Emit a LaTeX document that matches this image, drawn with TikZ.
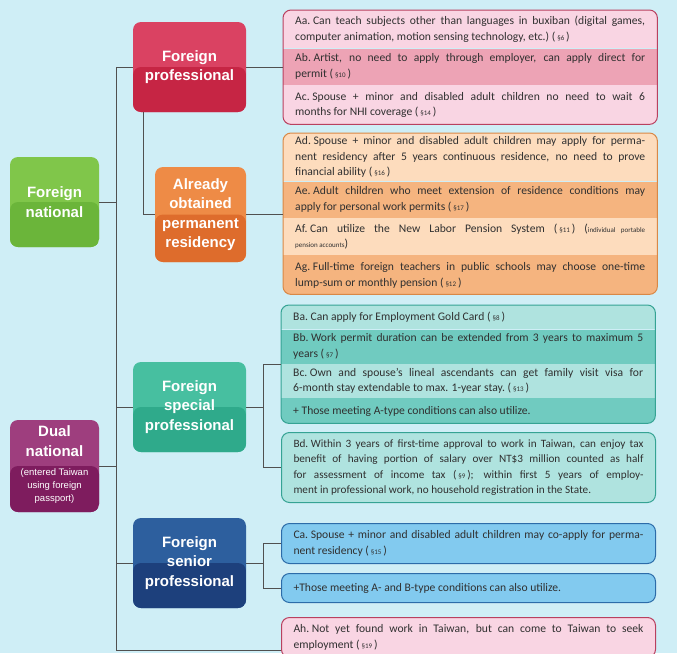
\documentclass[tikz,border=0pt]{standalone}
\usepackage{fontspec}
\setmainfont{Carlito}
\newfontfamily\headfont{Liberation Sans}
\usetikzlibrary{positioning}

\definecolor{bgblue}{HTML}{CFEEF6}
\definecolor{natT}{HTML}{80C64A}
\definecolor{natB}{HTML}{6BB53A}
\definecolor{proT}{HTML}{DA4262}
\definecolor{proB}{HTML}{C62544}
\definecolor{perT}{HTML}{EE8B46}
\definecolor{perB}{HTML}{DE6C2C}
\definecolor{speT}{HTML}{47BFA0}
\definecolor{speB}{HTML}{2FAA8B}
\definecolor{senT}{HTML}{2D5F9E}
\definecolor{senB}{HTML}{1D407C}
\definecolor{dualT}{HTML}{9E3E7E}
\definecolor{dualB}{HTML}{7E1C5E}
\definecolor{pinkL}{HTML}{F9D5E3}
\definecolor{pinkM}{HTML}{EDA3B5}
\definecolor{pinkE}{HTML}{B9405F}
\definecolor{oraL}{HTML}{FDDCBD}
\definecolor{oraM}{HTML}{F5B47F}
\definecolor{oraE}{HTML}{D98846}
\definecolor{tealL}{HTML}{AFE3DF}
\definecolor{tealM}{HTML}{70CBC0}
\definecolor{tealE}{HTML}{35A394}
\definecolor{bluF}{HTML}{82CAEF}
\definecolor{bluE}{HTML}{2C6CA9}
\definecolor{linegray}{HTML}{505050}
\definecolor{txtgray}{HTML}{303030}

\newcommand\itm[2]{\noindent\setbox0\hbox{#1\ }\hangindent=\wd0\hangafter=1\box0\relax #2}
\newcommand\sectno[1]{\ (\,{\scriptsize\S#1}\,)}

\begin{document}
\begin{tikzpicture}[x=1pt, y=-1pt,
  cat/.style 2 args={rounded corners=8pt, fill=#1, inner sep=0pt, align=center, text=white,
    font=\headfont\bfseries\fontsize{15}{19.5}\selectfont,
    path picture={\fill[#2] (path picture bounding box.west) rectangle (path picture bounding box.south east);}},
  grp/.style={minimum width=374pt, inner sep=0pt, anchor=north west},
  row/.style={text width=350pt, inner xsep=12pt, inner ysep=0pt, align=justify, anchor=north west,
    font=\fontsize{11.6}{15.5}\selectfont, text=txtgray},
  frame/.style={rounded corners=8pt, line width=1pt},
  box/.style 2 args={row, fill=#1, draw=#2, line width=1pt, rounded corners=8pt},
  conn/.style={draw=linegray, line width=1pt}]
  \fill[bgblue, use as bounding box] (0,0) rectangle (677,653);

  \node[cat={natT}{natB}, minimum width=89pt, minimum height=90pt] (nat) at (54.5,202) {Foreign\\national};
  \node[cat={dualT}{dualB}, minimum width=89pt, minimum height=92pt] (dual) at (54.5,466)
    {Dual\\national\\[0pt]{\mdseries\fontsize{9.5}{13}\selectfont\begin{tabular}[t]{@{}c@{}}(entered Taiwan\\using foreign\\passport)\end{tabular}}};
  \node[cat={proT}{proB}, minimum width=113pt, minimum height=90pt] (pro) at (189.5,67) {Foreign\\professional};
  \node[cat={perT}{perB}, minimum width=91pt, minimum height=95pt] (per) at (200.5,214.5) {Already\\obtained\\permanent\\residency};
  \node[cat={speT}{speB}, minimum width=113pt, minimum height=90pt] (spe) at (189.5,407) {Foreign\\special\\professional};
  \node[cat={senT}{senB}, minimum width=113pt, minimum height=90pt] (sen) at (189.5,563) {Foreign\\senior\\professional};

  \node[grp, minimum height=114pt] (A) at (283,10) {};
  \begin{scope}
    \clip[rounded corners=8pt] (A.north west) rectangle (A.south east);
    \node[row, fill=pinkL, minimum height=38pt] (Aa) at (A.north west)
      {\itm{Aa.}{Can teach subjects other than languages in buxiban (digital games,\linebreak computer animation, motion sensing technology, etc.)\sectno{6}}};
    \node[row, fill=pinkM, minimum height=36pt, below=0pt of Aa] (Ab)
      {\itm{Ab.}{Artist, no need to apply through employer, can apply direct for\linebreak permit\sectno{10}}};
    \node[row, fill=pinkL, minimum height=40pt, below=0pt of Ab] (Ac)
      {\itm{Ac.}{Spouse + minor and disabled adult children no need to wait 6\linebreak months for NHI coverage\sectno{14}}};
  \end{scope}
  \draw[frame, draw=pinkE] (A.north west) rectangle (A.south east);

  \node[grp, minimum height=161pt] (P) at (283,133) {};
  \begin{scope}
    \clip[rounded corners=8pt] (P.north west) rectangle (P.south east);
    \node[row, fill=oraL, minimum height=48pt] (Ad) at (P.north west)
      {\itm{Ad.}{Spouse + minor and disabled adult children may apply for perma-\linebreak nent residency after 5 years continuous residence, no need to prove\linebreak financial ability\sectno{16}}};
    \node[row, fill=oraM, minimum height=36pt, below=0pt of Ad] (Ae)
      {\itm{Ae.}{Adult children who meet extension of residence conditions may\linebreak apply for personal work permits\sectno{17}}};
    \node[row, fill=oraL, minimum height=37pt, below=0pt of Ae] (Af)
      {\itm{Af.}{Can utilize the New Labor Pension System\sectno{11}\ ({\scriptsize individual portable\linebreak pension accounts})}};
    \node[row, fill=oraM, minimum height=40pt, below=0pt of Af] (Ag)
      {\itm{Ag.}{Full-time foreign teachers in public schools may choose one-time\linebreak lump-sum or monthly pension\sectno{12}}};
  \end{scope}
  \draw[frame, draw=oraE] (P.north west) rectangle (P.south east);

  \node[grp, minimum height=118pt] (B) at (281,305) {};
  \begin{scope}
    \clip[rounded corners=8pt] (B.north west) rectangle (B.south east);
    \node[row, fill=tealL, minimum height=24pt] (Ba) at (B.north west)
      {\itm{Ba.}{Can apply for Employment Gold Card\sectno{8}}};
    \node[row, fill=tealM, minimum height=34pt, below=0pt of Ba] (Bb)
      {\itm{Bb.}{Work permit duration can be extended from 3 years to maximum 5\linebreak years\sectno{7}}};
    \node[row, fill=tealL, minimum height=34pt, below=0pt of Bb] (Bc)
      {\itm{Bc.}{Own and spouse’s lineal ascendants can get family visit visa for\linebreak 6-month stay extendable to max. 1-year stay.\sectno{13}}};
    \node[row, fill=tealM, minimum height=26pt, below=0pt of Bc] (Bp)
      {+ Those meeting A-type conditions can also utilize.};
  \end{scope}
  \draw[frame, draw=tealE] (B.north west) rectangle (B.south east);

  \node[box={tealL}{tealE}, minimum height=70pt, font=\fontsize{11.2}{15.5}\selectfont] (Bd) at (281,432)
    {\itm{Bd.}{Within 3 years of first-time approval to work in Taiwan, can enjoy tax\linebreak benefit of having portion of salary over NT\$3 million counted as half\linebreak for assessment of income tax\sectno{9}; within first 5 years of employ-\linebreak ment in professional work, no household registration in the State.}};
  \node[box={bluF}{bluE}, minimum height=40pt] (Ca) at (281,523)
    {\itm{Ca.}{Spouse + minor and disabled adult children may co-apply for perma-\linebreak nent residency\sectno{15}}};
  \node[box={bluF}{bluE}, minimum height=29pt] (Cp) at (281,573)
    {+Those meeting A- and B-type conditions can also utilize.};
  \node[box={pinkL}{pinkE}, minimum height=40pt] (Ah) at (281,617)
    {\itm{Ah.}{Not yet found work in Taiwan, but can come to Taiwan to seek\linebreak employment\sectno{19}}};

  \coordinate (tt) at (116,67);
  \coordinate (tb) at (116,650);
  \coordinate (bus) at (263,0);
  \draw[conn] (tt) -- (tb);
  \draw[conn] (nat.east) -- (nat.east -| tt);
  \draw[conn] (dual.east) -- (dual.east -| tt);
  \draw[conn] (tt) -- (pro.west);
  \draw[conn] (pro.east) -- (pro.east -| A.west);
  \draw[conn] ([xshift=-46.5pt]pro.south) |- (per.west);
  \draw[conn] (per.east) -- (per.east -| P.west);
  \draw[conn] (spe.west -| tt) -- (spe.west);
  \draw[conn] (spe.east) -- (spe.east -| bus);
  \draw[conn] (B.west) -- (B.west -| bus) -- (Bd.west -| bus) -- (Bd.west);
  \draw[conn] (sen.west -| tt) -- (sen.west);
  \draw[conn] (sen.east) -- (sen.east -| bus);
  \draw[conn] (Ca.west) -- (Ca.west -| bus) -- (Cp.west -| bus) -- (Cp.west);
  \draw[conn] (tb) -- (tb -| Ah.west);
\end{tikzpicture}
\end{document}
